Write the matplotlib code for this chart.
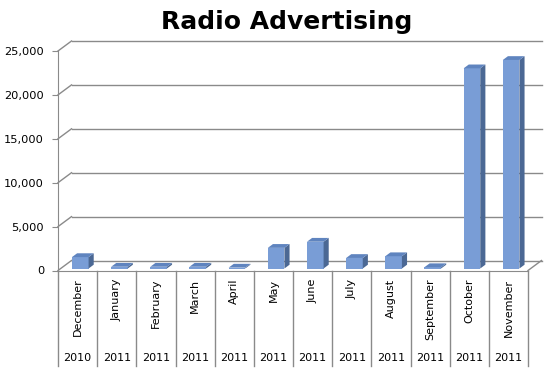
import numpy as np
import matplotlib.pyplot as plt
from matplotlib.patches import Polygon

months = ['December', 'January', 'February', 'March', 'April', 'May',
          'June', 'July', 'August', 'September', 'October', 'November']
years = ['2010'] + ['2011'] * 11
values = [1300, 200, 200, 200, 100, 2350, 3050, 1200, 1400, 150, 22800, 23750]
yticks = [0, 5000, 10000, 15000, 20000, 25000]

front = '#799dd6'
side = '#4b6894'
top = '#5f84bf'
grid = '#8a8a8a'

fig = plt.figure(figsize=(5.6, 3.84), dpi=100)
ax = fig.add_axes([58 / 560, (384 - 270.5) / 384, 470 / 560, 219.5 / 384])
ax.set_xlim(0, 12)
ax.set_ylim(0, 25000)

# depth of the 3d box in data units
dx = 13.5 / (470 / 12)
dy = 10 / 219.5 * 25000

# back wall gridlines + the slanted bits on the left wall
for v in yticks:
    ax.plot([dx, 12 + dx], [v + dy, v + dy], color=grid, lw=1, zorder=1, clip_on=False)
    ax.plot([0, dx], [v, v + dy], color=grid, lw=1, zorder=1, clip_on=False)
# floor right edge
ax.plot([12, 12 + dx], [0, dy], color=grid, lw=1, zorder=1, clip_on=False)

# bars
d0 = 0.2   # where the bars sit in depth
bd = 0.38  # bar depth
w = 0.424
n = len(values)
x = np.arange(n) + (1 - w) / 2 + d0 * dx
b = d0 * dy
ax.bar(x, values, width=w, bottom=b, align='edge', color=front, zorder=3,
       linewidth=0, clip_on=False)
for xl, v in zip(x, values):
    xr = xl + w
    ox, oy = bd * dx, bd * dy
    ax.add_patch(Polygon([(xr, b), (xr, b + v), (xr + ox, b + v + oy), (xr + ox, b + oy)],
                         closed=True, color=side, lw=0, zorder=3, clip_on=False))
    ax.add_patch(Polygon([(xl, b + v), (xr, b + v), (xr + ox, b + v + oy), (xl + ox, b + v + oy)],
                         closed=True, color=top, lw=0, zorder=3, clip_on=False))

# axes styling
for s in ['top', 'right']:
    ax.spines[s].set_visible(False)
ax.spines['left'].set_color(grid)
ax.spines['bottom'].set_color(grid)
ax.set_yticks(yticks)
ax.set_yticklabels(['{:,}'.format(v) for v in yticks], fontsize=8.2)
ax.tick_params(axis='y', length=4, color=grid, pad=6)
ax.set_xticks([])

# category table under the axis
tr = ax.get_xaxis_transform()
for i in range(n + 1):
    ax.plot([i, i], [0, -0.435], color=grid, lw=1, transform=tr, clip_on=False)
for i, (m, yr) in enumerate(zip(months, years)):
    ax.text(i + 0.5, -0.037, m, rotation=90, ha='center', va='top',
            fontsize=8, transform=tr)
    ax.text(i + 0.5, -0.40, yr, ha='center', va='center', fontsize=8, transform=tr)

fig.text(0.5125, 0.943, 'Radio Advertising', ha='center', va='center',
         fontsize=18, fontweight='bold')

fig.savefig('out.png', dpi=100)
